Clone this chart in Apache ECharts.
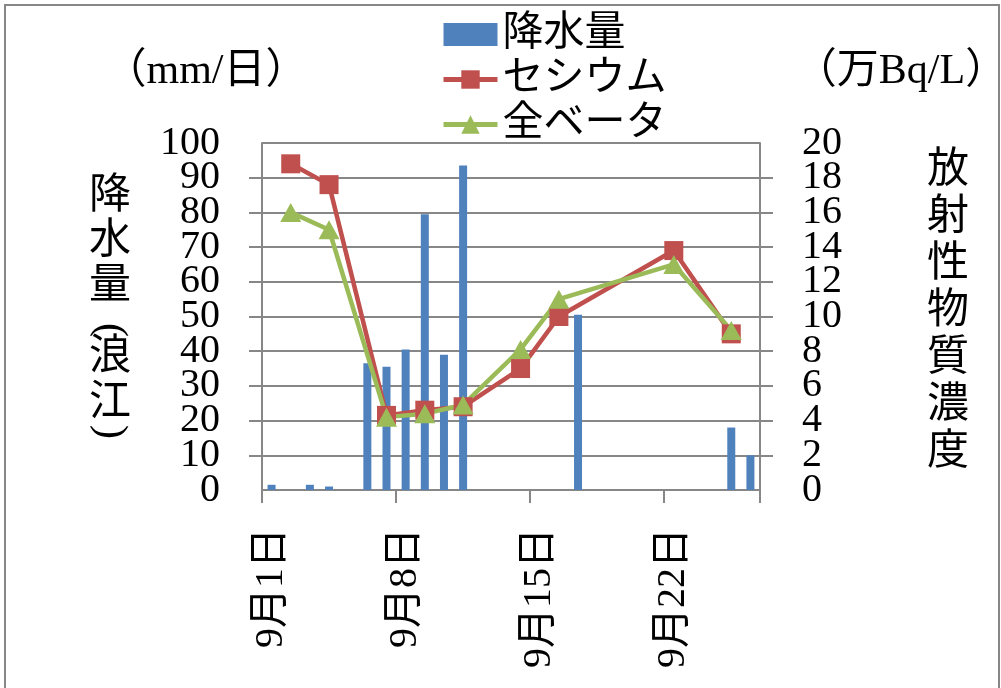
<!DOCTYPE html>
<html>
<head>
<meta charset="utf-8">
<title>降水量と放射性物質濃度</title>
<script src="https://cdn.jsdelivr.net/npm/echarts@6/dist/echarts.min.js"></script>
<style>
  html, body { margin: 0; padding: 0; background: #fff; }
  #chart { width: 1001px; height: 688px; }
</style>
</head>
<body>
<div id="chart"></div>
<script>
// 日付 (9月1日〜9月26日)
const days = [
  '9月1日', '9月2日', '9月3日', '9月4日', '9月5日', '9月6日', '9月7日',
  '9月8日', '9月9日', '9月10日', '9月11日', '9月12日', '9月13日', '9月14日',
  '9月15日', '9月16日', '9月17日', '9月18日', '9月19日', '9月20日', '9月21日',
  '9月22日', '9月23日', '9月24日', '9月25日', '9月26日'
];
// 降水量 (mm/日)
const rain = [
  1.5, null, 1.5, 1.0, null, 36.5, 35.5,
  40.5, 79.5, 39.0, 93.5, null, null, null,
  null, null, 50.5, null, null, null, null,
  null, null, null, 18.0, 10.0
];
// セシウム (万Bq/L)
const cesium = [
  null, 18.8, null, 17.6, null, null, 4.3,
  null, 4.6, null, 4.8, null, null, 7.0,
  null, 10.0, null, null, null, null, null,
  13.8, null, null, 9.0, null
];
// 全ベータ (万Bq/L)
const beta = [
  null, 16.0, null, 15.0, null, null, 4.2,
  null, 4.4, null, 4.9, null, null, 8.1,
  null, 11.0, null, null, null, null, null,
  13.0, null, null, 9.2, null
];

const FONT = '"Liberation Serif", "Noto Sans CJK JP", serif';
const GRAY = '#878787';

const chart = echarts.init(document.getElementById('chart'));

// 縦書き用の小さなテキスト要素
const vText = (text, x, y, lineHeight, rotation) => ({
  type: 'text',
  x: x,
  y: y,
  rotation: rotation || 0,
  style: {
    text: text,
    font: '42px ' + FONT,
    lineHeight: lineHeight,
    fill: '#000',
    align: 'center',
    verticalAlign: 'middle',
  },
});

const labelBase = { margin: 42, fontSize: 40, color: '#000', fontFamily: FONT };
const lineGray = { color: GRAY, width: 2 };

// 目盛ラベルが大きく詰まっているので、ECharts に間引かれないように
// 1つおきのラベルを2本の軸に分けて描く
const yAxisPair = (pos, max, step) => [
  {
    // 偶数番目のラベル (0, 2*step, ...)
    type: 'value',
    position: pos,
    min: 0,
    max: max,
    interval: step * 2,
    axisLine: { show: true, lineStyle: lineGray },
    axisTick: { show: false },
    axisLabel: Object.assign({ showMinLabel: true, showMaxLabel: true }, labelBase),
    splitLine: { show: false },
  },
  {
    // 奇数番目のラベルと目盛線
    type: 'value',
    position: pos,
    min: 0,
    max: max,
    interval: step,
    axisLine: { show: false },
    axisTick: { show: true, length: 13, lineStyle: lineGray },
    axisLabel: Object.assign({
      showMinLabel: false,
      showMaxLabel: false,
      formatter: (v) => (Math.round(v / step) % 2 === 1 ? String(v) : ''),
    }, labelBase),
    splitLine: { show: pos === 'left', lineStyle: lineGray },
  },
];

const leftAxes = yAxisPair('left', 100, 10);
const rightAxes = yAxisPair('right', 20, 2);

chart.setOption({
  animation: false,
  textStyle: { fontFamily: FONT, color: '#000' },
  grid: { left: 262, right: 241, top: 143, bottom: 198 },
  legend: {
    orient: 'vertical',
    left: 436,
    top: 9,
    itemWidth: 54,
    itemHeight: 23,
    itemGap: 4,
    lineStyle: { width: 5 },
    textStyle: { fontFamily: FONT, fontSize: 41, lineHeight: 41, color: '#000' },
    data: [{ name: '降水量', icon: 'rect' }, 'セシウム', '全ベータ'],
  },
  xAxis: {
    type: 'category',
    data: days,
    boundaryGap: true,
    axisLine: { lineStyle: lineGray },
    axisTick: {
      show: true,
      interval: (i) => i % 7 === 0,
      length: 13,
      lineStyle: lineGray,
    },
    axisLabel: {
      interval: 6,
      rotate: 90,
      margin: 38,
      fontSize: 40,
      color: '#000',
      fontFamily: FONT,
    },
  },
  // 0: 左(降水量)  1: 右(濃度)  2, 3: 補助
  yAxis: [leftAxes[0], rightAxes[0], leftAxes[1], rightAxes[1]],
  series: [
    {
      name: '降水量',
      type: 'bar',
      yAxisIndex: 0,
      barWidth: 8,
      itemStyle: { color: '#4F81BD' },
      data: rain,
    },
    {
      name: 'セシウム',
      type: 'line',
      yAxisIndex: 1,
      connectNulls: true,
      showAllSymbol: true,
      symbol: 'rect',
      symbolSize: 19,
      lineStyle: { color: '#C0504D', width: 4.5 },
      itemStyle: { color: '#C0504D' },
      data: cesium,
    },
    {
      name: '全ベータ',
      type: 'line',
      yAxisIndex: 1,
      connectNulls: true,
      showAllSymbol: true,
      symbol: 'triangle',
      symbolSize: [21, 19],
      lineStyle: { color: '#9BBB59', width: 4.5 },
      itemStyle: { color: '#9BBB59' },
      data: beta,
    },
  ],
  graphic: [
    // 外枠
    {
      type: 'rect',
      silent: true,
      shape: { x: 5, y: 5, width: 994, height: 720 },
      style: { fill: 'none', stroke: GRAY, lineWidth: 2 },
    },
    // 単位
    {
      type: 'text',
      x: 206,
      y: 72,
      style: { text: '（mm/日）', font: '42px ' + FONT, fill: '#000', align: 'center', verticalAlign: 'middle' },
    },
    {
      type: 'text',
      x: 901,
      y: 72,
      style: { text: '（万Bq/L）', font: '42px ' + FONT, fill: '#000', align: 'center', verticalAlign: 'middle' },
    },
    // 縦書きの軸タイトル（左）
    vText('降\n水\n量', 110, 242, 45),
    vText('(', 110, 330, 42, -Math.PI / 2),
    vText('浪\n江', 110, 381, 46),
    vText(')', 110, 432, 42, -Math.PI / 2),
    // 縦書きの軸タイトル（右）
    vText('放\n射\n性\n物\n質\n濃\n度', 948, 312, 47),
  ],
});
</script>
</body>
</html>
